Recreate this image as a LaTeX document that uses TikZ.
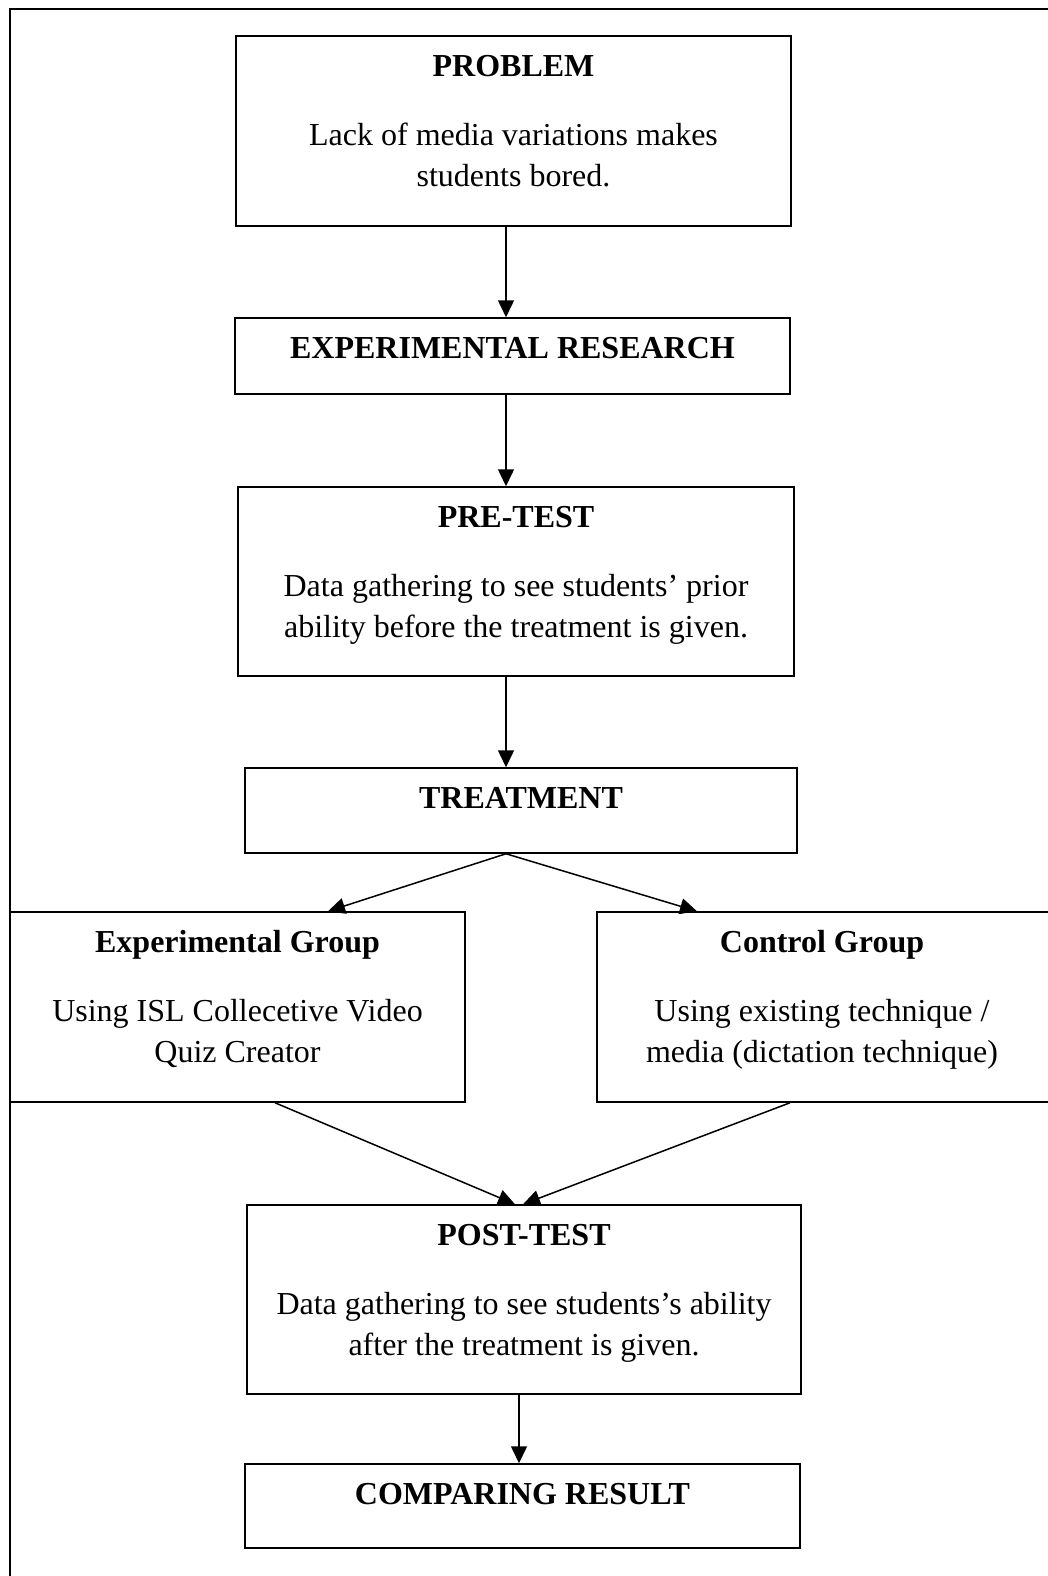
\documentclass[tikz,border=0pt]{standalone}
\usepackage{fontspec}
\setmainfont{Liberation Serif}
\usetikzlibrary{arrows.meta,calc}
\begin{document}
\begin{tikzpicture}[x=1pt,y=-1pt,
  box/.style={draw,line width=1.5pt,rectangle,inner sep=0pt},
  ttl/.style={inner sep=0pt,anchor=base,font=\fontsize{32}{41}\selectfont\bfseries},
  txt/.style={inner sep=0pt,anchor=base,font=\fontsize{32}{41}\selectfont},
  arr/.style={line width=1.5pt,-{Triangle[length=17pt,width=16pt]}}]
\useasboundingbox (0,0) rectangle (1048,1576);
\fill[white] (0,0) rectangle (1048,1576);
% outer frame (cut on right and bottom)
\draw[line width=2pt] (10,1600) -- (10,9) -- (1070,9);
% boxes
\node[box,minimum width=555pt,minimum height=190pt] (pb) at (513.5,131) {};
\node[box,minimum width=555pt,minimum height=76pt] (er) at (512.5,356) {};
\node[box,minimum width=556pt,minimum height=189pt] (pre) at (516,581.5) {};
\node[box,minimum width=552pt,minimum height=85pt] (tr) at (521,810.5) {};
\node[box,minimum width=455pt,minimum height=190pt] (exp) at (237.5,1007) {};
\node[box,minimum width=452pt,minimum height=190pt] (ctl) at (823,1007) {};
\node[box,minimum width=554pt,minimum height=189pt] (post) at (524,1299.5) {};
\node[box,minimum width=555pt,minimum height=84pt] (cmp) at (522.5,1506) {};
% texts
\node[ttl] (pbt) at ([yshift=-41pt]pb.north) {PROBLEM};
\node[txt] (pb1) at ([yshift=-110pt]pb.north) {Lack of media variations makes};
\node[txt] (pb2) at ([yshift=-151pt]pb.north) {students bored.};
\node[ttl] (ert) at ([yshift=-41pt]er.north) {EXPERIMENTAL RESEARCH};
\node[ttl] (pret) at ([yshift=-41pt]pre.north) {PRE-TEST};
\node[txt] (pre1) at ([yshift=-110pt]pre.north) {Data gathering to see students’ prior};
\node[txt] (pre2) at ([yshift=-151pt]pre.north) {ability before the treatment is given.};
\node[ttl] (trt) at ([yshift=-41pt]tr.north) {TREATMENT};
\node[ttl] (expt) at ([yshift=-41pt]exp.north) {Experimental Group};
\node[txt] (exp1) at ([yshift=-110pt]exp.north) {Using ISL Collecetive Video};
\node[txt] (exp2) at ([yshift=-151pt]exp.north) {Quiz Creator};
\node[ttl] (ctlt) at ([xshift=-1pt,yshift=-41pt]ctl.north) {Control Group};
\node[txt] (ctl1) at ([xshift=-1pt,yshift=-110pt]ctl.north) {Using existing technique /};
\node[txt] (ctl2) at ([xshift=-1pt,yshift=-151pt]ctl.north) {media (dictation technique)};
\node[ttl] (postt) at ([yshift=-41pt]post.north) {POST-TEST};
\node[txt] (post1) at ([yshift=-110pt]post.north) {Data gathering to see students’s ability};
\node[txt] (post2) at ([yshift=-151pt]post.north) {after the treatment is given.};
\node[ttl] (cmpt) at ([yshift=-41pt]cmp.north) {COMPARING RESULT};
% connectors
\coordinate (ax) at (506,0);
\draw[arr] (pb.south -| ax) -- (er.north -| ax);
\draw[arr] (er.south -| ax) -- (pre.north -| ax);
\draw[arr] (pre.south -| ax) -- (tr.north -| ax);
\draw[arr] (tr.south -| ax) -- ([xshift=90.5pt]exp.north);
\draw[arr] (tr.south -| ax) -- ([xshift=-126pt]ctl.north);
\draw[arr] ([xshift=37.5pt]exp.south) -- ([xshift=-9pt]post.north);
\draw[arr] ([xshift=-33pt]ctl.south) -- ([xshift=-1pt]post.north);
\draw[arr] ([xshift=-5pt]post.south) -- ([xshift=-3.5pt]cmp.north);
\end{tikzpicture}
\end{document}
